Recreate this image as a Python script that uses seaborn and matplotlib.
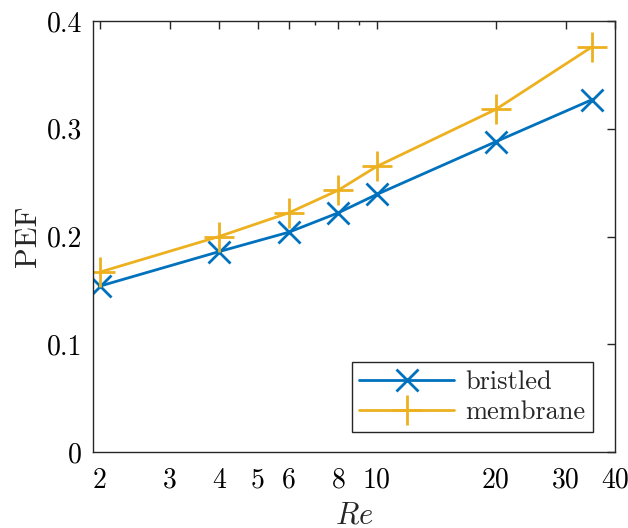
import matplotlib
matplotlib.use("Agg")
import matplotlib.pyplot as plt
import seaborn as sns
import pandas as pd
from matplotlib.ticker import FixedLocator, NullFormatter, FixedFormatter

Re = [2, 4, 6, 8, 10, 20, 35]
bristled = [0.154, 0.186, 0.204, 0.222, 0.239, 0.288, 0.327]
membrane = [0.167, 0.200, 0.222, 0.243, 0.265, 0.318, 0.376]
xticks = [2, 3, 4, 5, 6, 8, 10, 20, 30, 40]
yticks = [0, 0.1, 0.2, 0.3, 0.4]

sns.set_style("white")
plt.rcParams['font.family'] = ['cmr10', 'DejaVu Serif']
plt.rcParams['mathtext.fontset'] = 'cm'
plt.rcParams['axes.unicode_minus'] = False

fig = plt.figure(figsize=(6.28, 5.28), dpi=100)
ax = fig.add_axes([93/628, 1 - 452/528, (615-93)/628, (452-21)/528])

series = [("bristled", bristled, "#0072BD", "x", 16),
          ("membrane", membrane, "#EDB120", "+", 22)]
for name, vals, col, mk, ms in series:
    d = pd.DataFrame({"Re": Re, "PEF": vals})
    sns.lineplot(data=d, x="Re", y="PEF", ax=ax, color=col, label=name,
                 marker=mk, markersize=ms, markeredgewidth=2,
                 markeredgecolor=col, linewidth=2)

ax.set_xscale("log")
ax.set_xlim(1.92, 40)
ax.set_ylim(0, 0.4)
ax.xaxis.set_major_locator(FixedLocator(xticks))
ax.xaxis.set_major_formatter(FixedFormatter([str(t) for t in xticks]))
ax.xaxis.set_minor_locator(FixedLocator([7, 9]))
ax.xaxis.set_minor_formatter(NullFormatter())
ax.set_yticks(yticks)
ax.set_yticklabels(["0", "0.1", "0.2", "0.3", "0.4"])
ax.tick_params(which="both", direction="in", top=True, right=True,
               labelsize=20, color="#262626", width=1, labelcolor="black")
ax.tick_params(which="major", length=6, pad=8)
ax.tick_params(axis="x", which="major", pad=11)
ax.tick_params(which="minor", length=3)
for s in ax.spines.values():
    s.set_color("#262626")
    s.set_linewidth(1)
ax.set_xlabel("$Re$", fontsize=22, labelpad=6)
ax.set_ylabel("PEF", fontsize=22, labelpad=3)
leg = ax.legend(loc="lower right", fontsize=19, frameon=True, fancybox=False,
                edgecolor="#262626", framealpha=1, handlelength=3.6,
                borderpad=0.3, labelspacing=0.25, handletextpad=0.4,
                borderaxespad=0, bbox_to_anchor=(0.958, 0.046))
leg.get_frame().set_linewidth(1)
fig.savefig("out.png", dpi=100)
